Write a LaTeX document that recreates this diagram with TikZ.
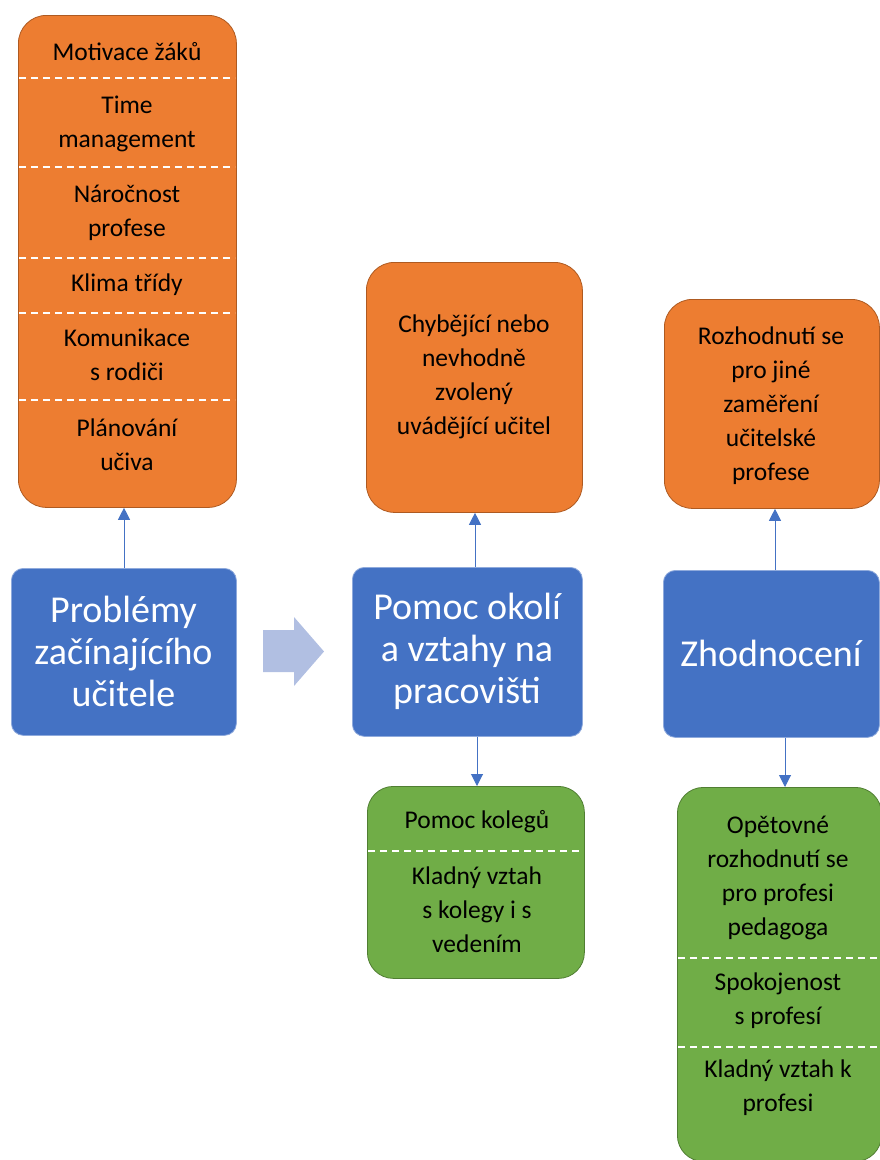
\documentclass[tikz,border=0pt]{standalone}
\usepackage{fontspec}
\setmainfont{Carlito}
\usetikzlibrary{arrows.meta}
\definecolor{orangeF}{HTML}{ED7D31}
\definecolor{orangeD}{HTML}{AE5A21}
\definecolor{greenF}{HTML}{70AD47}
\definecolor{greenD}{HTML}{507E32}
\definecolor{blueF}{HTML}{4472C4}
\definecolor{blueL}{HTML}{B1BFE2}
\tikzset{
  obox/.style={draw=orangeD, fill=orangeF, line width=0.8pt, rounded corners=28pt, anchor=north west, inner sep=0pt},
  gbox/.style={draw=greenD, fill=greenF, line width=0.8pt, rounded corners=26pt, anchor=north west, inner sep=0pt},
  bbox/.style={draw=blueF!60!white, fill=blueF, line width=0.8pt, rounded corners=12pt, anchor=north west, inner sep=0pt},
  small/.style={font=\fontsize{25.5}{34}\selectfont, text=black, align=center, inner sep=0pt},
  big/.style={font=\fontsize{38}{42}\selectfont, text=white, align=center, inner sep=0pt},
  sep/.style={draw=white, dashed, dash pattern=on 7pt off 5pt, line width=1.2pt},
  conn/.style={draw=blueF, line width=1pt, -{Triangle[width=12pt,length=12pt]}},
}
\begin{document}
\begin{tikzpicture}[x=1pt,y=-1pt]
\useasboundingbox (0,0) rectangle (879,1160);
% ---------- column 1 ----------
\node[obox, minimum width=218pt, minimum height=492pt] (o1) at (18,15) {};
\node[small] (t11) at (127,52) {Motivace žáků};
\node[small] (t12) at (127,124) {Time\\management};
\node[small] (t13) at (127,213) {Náročnost\\profese};
\node[small] (t14) at (127,285) {Klima třídy};
\node[small] (t15) at (127,355) {Komunikace\\s rodiči};
\node[small] (t16) at (127,445) {Plánování\\učiva};
\foreach \yy in {78,167,258,313,400} \draw[sep] (19,\yy) -- (235,\yy);
\node[bbox, minimum width=225pt, minimum height=167pt] (b1) at (11,568) {};
\node[big] (tb1) at (123.5,651) {Problémy\\začínajícího\\učitele};
\draw[conn] (b1.north -| 124,0) -- (o1.south -| 124,0);
% big arrow
\fill[blueL] (263,630) -- (294,630) -- (294,617) -- (324,651.5) -- (294,686) -- (294,672) -- (263,672) -- cycle;
% ---------- column 2 ----------
\node[obox, minimum width=216pt, minimum height=250pt] (o2) at (366,262) {};
\node[small] (t21) at (474,377) {Chybějící nebo\\nevhodně\\zvolený\\uvádějící učitel};
\node[bbox, minimum width=230pt, minimum height=169pt] (b2) at (352,567) {};
\node[big] (tb2) at (467,651) {Pomoc okolí\\a vztahy na\\pracovišti};
\node[gbox, minimum width=217pt, minimum height=192pt] (g2) at (367,786) {};
\node[small] (t22) at (477,822) {Pomoc kolegů};
\node[small] (t23) at (477,910) {Kladný vztah\\s kolegy i s\\vedením};
\draw[sep] (368,851) -- (583,851);
\draw[conn] (b2.north -| 475,0) -- (o2.south -| 475,0);
\draw[conn] (b2.south -| 477,0) -- (g2.north -| 477,0);
% ---------- column 3 ----------
\node[obox, minimum width=215pt, minimum height=209pt] (o3) at (664,299) {};
\node[small] (t31) at (771,406) {Rozhodnutí se\\pro jiné\\zaměření\\učitelské\\profese};
\node[bbox, minimum width=216pt, minimum height=167pt] (b3) at (663,570) {};
\node[big] (tb3) at (771,653) {Zhodnocení};
\node[gbox, minimum width=204pt, minimum height=374pt] (g3) at (677,787) {};
\node[small] (t32) at (778,878) {Opětovné\\rozhodnutí se\\pro profesi\\pedagoga};
\node[small] (t33) at (778,1001) {Spokojenost\\s profesí};
\node[small] (t34) at (778,1088) {Kladný vztah k\\profesi};
\draw[sep] (678,958) -- (879,958);
\draw[sep] (678,1047) -- (879,1047);
\draw[conn] (b3.north -| 775,0) -- (o3.south -| 775,0);
\draw[conn] (b3.south -| 785,0) -- (g3.north -| 785,0);
\end{tikzpicture}
\end{document}
